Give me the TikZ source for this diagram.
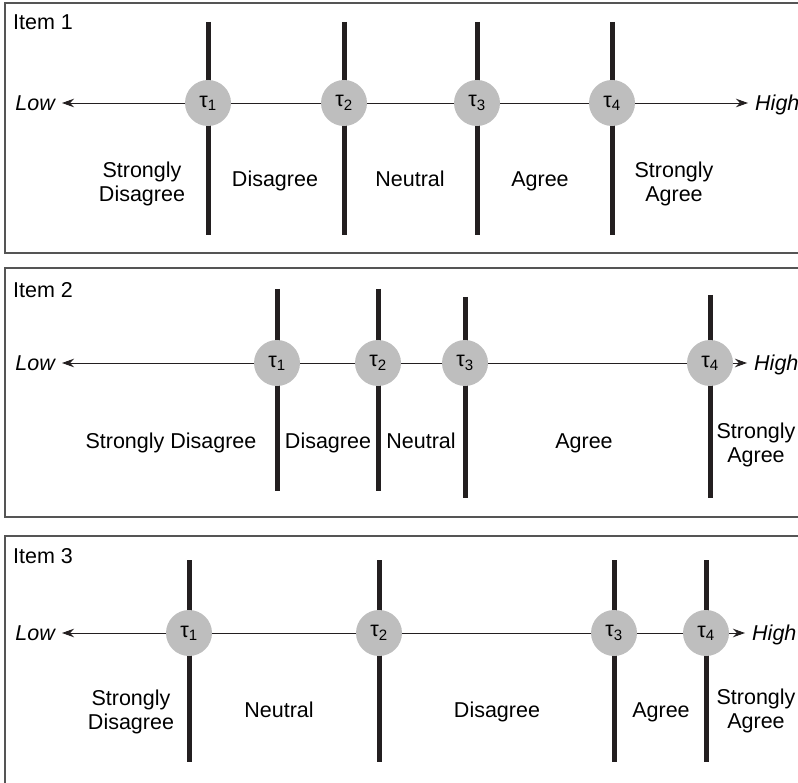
\documentclass[tikz,border=0pt]{standalone}
\usepackage{fontspec}
\setmainfont{Liberation Sans}
\usetikzlibrary{arrows.meta}
\definecolor{ink}{HTML}{231F20}
\definecolor{rulegray}{HTML}{555555}
\definecolor{cthr}{HTML}{BEBEBE}
\newcommand{\tk}[1]{τ\textsubscript{#1}}
\tikzset{
  >={Stealth[length=12pt,width=8.5pt]},
  every picture/.style={font=\fontsize{21.5}{24.5}\selectfont},
  panel/.style={draw=rulegray,line width=1.5pt},
  bar/.style={draw=ink,line width=5pt},
  thr/.style={circle,fill=cthr,minimum size=46pt,inner sep=0pt},
  ax/.style={draw=ink,line width=0.9pt},
  pole/.style={font=\fontsize{21.5}{24.5}\selectfont\itshape,inner xsep=7pt,inner ysep=0pt,text height=15.4pt,text depth=0pt},
  cat/.style={align=center,inner sep=0pt},
  cat1/.style={cat,anchor=base},
  itemlab/.style={anchor=north west,inner sep=0pt},
}
\begin{document}
\begin{tikzpicture}[x=1pt,y=-1pt]
  \useasboundingbox (0,0) rectangle (798,783);
  \clip (0,0) rectangle (798,783);
  % item 1
  \draw[panel] (5,3) rectangle (820,253);
  \node[itemlab] (i1) at (13,15) {Item 1};
  \draw[bar] (208,22) -- (208,235);
  \draw[bar] (344,22) -- (344,235);
  \draw[bar] (477,22) -- (477,235);
  \draw[bar] (612,22) -- (612,235);
  \node[thr] (a1) at (208,103) {\tk{1}};
  \node[thr] (a2) at (344,103) {\tk{2}};
  \node[thr] (a3) at (477,103) {\tk{3}};
  \node[thr] (a4) at (612,103) {\tk{4}};
  \node[pole,anchor=east] (alo) at (62,103) {Low};
  \node[pole,anchor=west] (ahi) at (748,103) {High};
  \draw[ax,<-] (alo) -- (a1);
  \draw[ax] (a1) -- (a2);
  \draw[ax] (a2) -- (a3);
  \draw[ax] (a3) -- (a4);
  \draw[ax,->] (a4) -- (ahi);
  \node[cat] (ac1) at (142,184) {Strongly\\Disagree};
  \node[cat1] (ac2) at (275,187) {Disagree};
  \node[cat1] (ac3) at (410,187) {Neutral};
  \node[cat1] (ac4) at (540,187) {Agree};
  \node[cat] (ac5) at (674,184) {Strongly\\Agree};
  % item 2
  \draw[panel] (5,268) rectangle (820,517);
  \node[itemlab] (i2) at (13,282) {Item 2};
  \draw[bar] (277,289) -- (277,491);
  \draw[bar] (378,289) -- (378,491);
  \draw[bar] (465,297) -- (465,498);
  \draw[bar] (710,295) -- (710,498);
  \node[thr] (b1) at (277,363) {\tk{1}};
  \node[thr] (b2) at (378,363) {\tk{2}};
  \node[thr] (b3) at (465,363) {\tk{3}};
  \node[thr] (b4) at (710,363) {\tk{4}};
  \node[pole,anchor=east] (blo) at (62,363) {Low};
  \node[pole,anchor=west] (bhi) at (747,363) {High};
  \draw[ax,<-] (blo) -- (b1);
  \draw[ax] (b1) -- (b2);
  \draw[ax] (b2) -- (b3);
  \draw[ax] (b3) -- (b4);
  \draw[ax,->] (b4) -- (bhi);
  \node[cat1] (bc1) at (171,449) {Strongly Disagree};
  \node[cat1] (bc2) at (328,449) {Disagree};
  \node[cat1] (bc3) at (421,449) {Neutral};
  \node[cat1] (bc4) at (584,449) {Agree};
  \node[cat] (bc5) at (756,445) {Strongly\\Agree};
  % item 3
  \draw[panel] (5,536) rectangle (820,800);
  \node[itemlab] (i3) at (13,548) {Item 3};
  \draw[bar] (189,560) -- (189,762);
  \draw[bar] (379,560) -- (379,762);
  \draw[bar] (614,560) -- (614,762);
  \draw[bar] (706,560) -- (706,762);
  \node[thr] (c1) at (189,633) {\tk{1}};
  \node[thr] (c2) at (379,633) {\tk{2}};
  \node[thr] (c3) at (614,633) {\tk{3}};
  \node[thr] (c4) at (706,633) {\tk{4}};
  \node[pole,anchor=east] (clo) at (62,633) {Low};
  \node[pole,anchor=west] (chi) at (745,633) {High};
  \draw[ax,<-] (clo) -- (c1);
  \draw[ax] (c1) -- (c2);
  \draw[ax] (c2) -- (c3);
  \draw[ax] (c3) -- (c4);
  \draw[ax,->] (c4) -- (chi);
  \node[cat] (cc1) at (131,712) {Strongly\\Disagree};
  \node[cat1] (cc2) at (279,717) {Neutral};
  \node[cat1] (cc3) at (497,717) {Disagree};
  \node[cat1] (cc4) at (661,717) {Agree};
  \node[cat] (cc5) at (756,711) {Strongly\\Agree};
\end{tikzpicture}
\end{document}
